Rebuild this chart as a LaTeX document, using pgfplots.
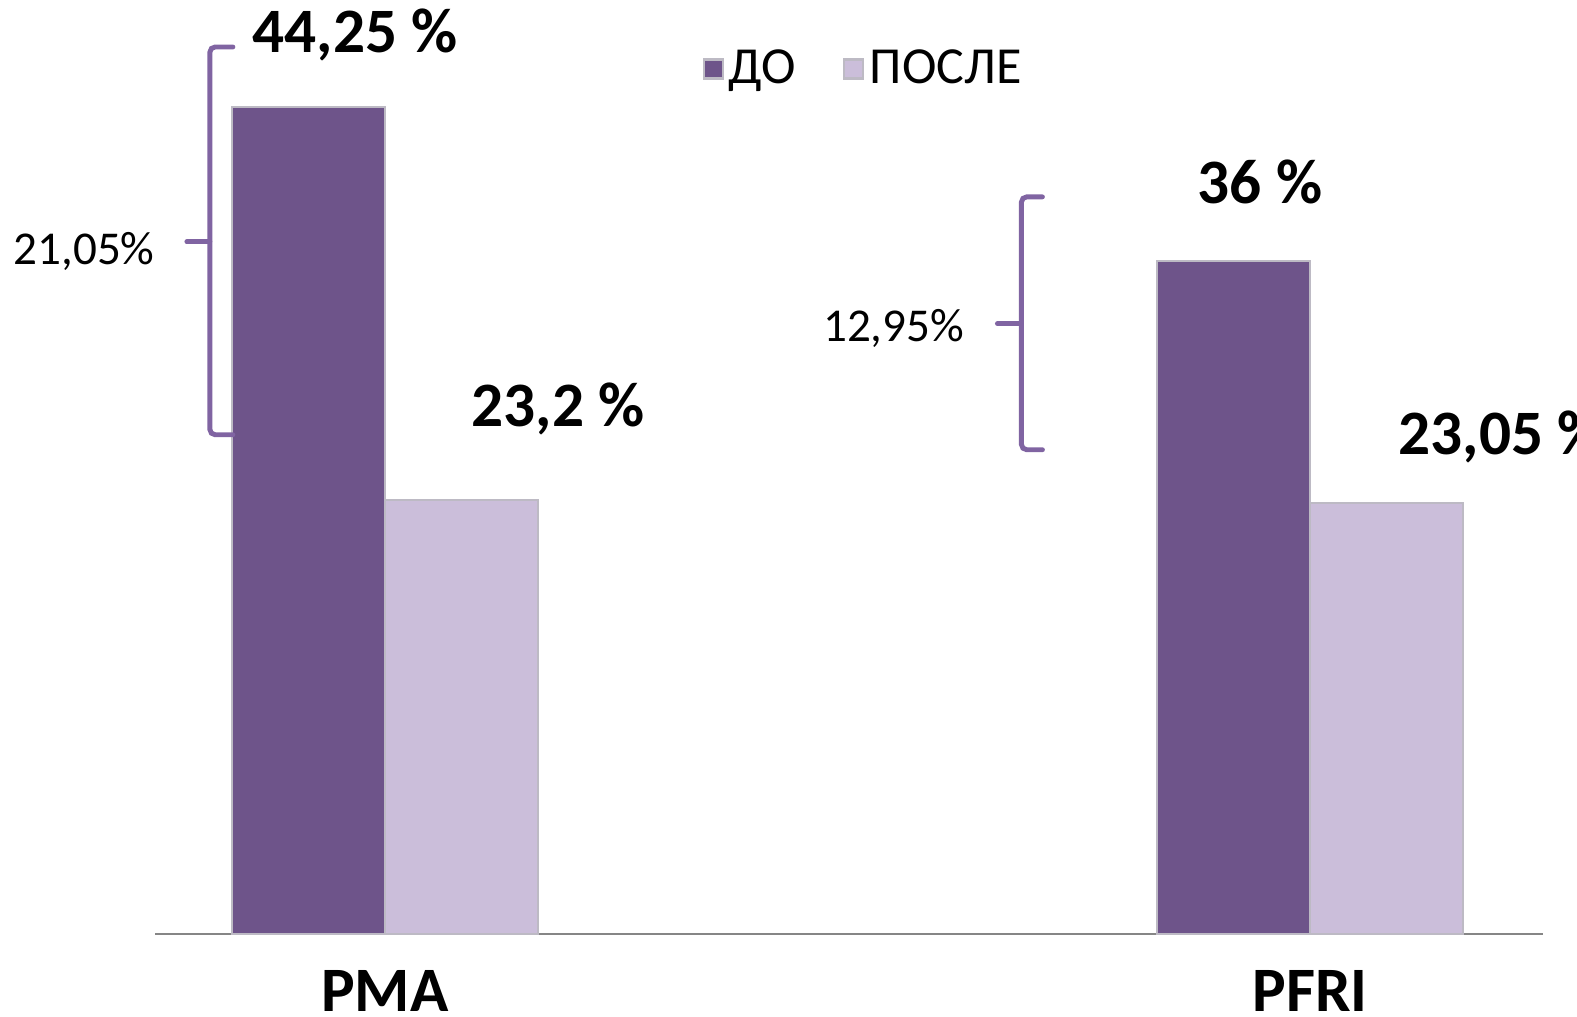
\documentclass[border=0pt]{standalone}
\usepackage{pgfplots}
\pgfplotsset{compat=1.18}
\usepackage{fontspec}
\setmainfont{Carlito}

\definecolor{dopurple}{HTML}{6E548A}
\definecolor{poslepurple}{HTML}{CBBEDA}
\definecolor{bracecol}{HTML}{8064A2}
\definecolor{axisgray}{HTML}{868686}
\definecolor{baredge}{HTML}{BDBAC4}

\newcommand{\bigfont}{\fontsize{18}{20}\selectfont\bfseries}
\newcommand{\smallfont}{\fontsize{13.4}{15}\selectfont}
\newcommand{\legfont}{\fontsize{14.8}{16}\selectfont}

\begin{document}
\begin{tikzpicture}
  \useasboundingbox (0,0) rectangle (15.77cm,10.16cm);
  \begin{axis}[
      at={(1.55cm,0.82cm)}, anchor=south west,
      scale only axis,
      width=13.88cm, height=9.345cm,
      xmin=-0.2486, xmax=1.2519,
      ymin=0, ymax=50,
      ybar=0pt, bar width=1.53cm,
      axis x line*=bottom,
      axis y line=none,
      x axis line style={-, draw=axisgray, line width=0.8pt},
      xtick={0,1},
      xticklabels={PMA,PFRI},
      xtick style={draw=none},
      xticklabel style={font=\bigfont, anchor=base, yshift=-0.62cm},
      clip=false,
      legend columns=2,
      legend style={at={(0.394,0.9256)}, anchor=west, draw=none, fill=none,
        inner sep=0pt, font=\legfont,
        nodes={inner xsep=1.5pt, inner ysep=0pt},
        /tikz/every even column/.append style={column sep=0.42cm}},
      legend image code/.code={\draw[#1] (0cm,-0.095cm) rectangle (0.19cm,0.095cm);},
    ]
    \addplot[fill=dopurple, draw=baredge, line width=0.6pt]
      coordinates {(0,44.25) (1,36)};
    \addlegendentry{ДО}
    \addplot[fill=poslepurple, draw=baredge, line width=0.6pt]
      coordinates {(0,23.2) (1,23.05)};
    \addlegendentry{ПОСЛЕ}

    \node[anchor=base west, inner sep=0pt, font=\bigfont] at (axis cs:-0.1438,47.14) {44,25 \%};
    \node[anchor=base west, inner sep=0pt, font=\bigfont] at (axis cs:0.093,27.18) {23,2 \%};
    \node[anchor=base west, inner sep=0pt, font=\bigfont] at (axis cs:0.8778,39.06) {36 \%};
    \node[anchor=base west, inner sep=0pt, font=\bigfont] at (axis cs:1.0951,25.63) {23,05 \%};
  \end{axis}

  % braces and differences, in pixel coordinates of the picture
  \begin{scope}[x=0.01cm, y=-0.01cm, shift={(0,10.16cm)},
      brace/.style={draw=bracecol, line width=1.4pt, line cap=round, rounded corners=1.5pt}]
    \draw[brace] (233,47) -| (210,435) -- (233,435);
    \draw[brace] (187,242) -- (210,242);
    \draw[brace] (1043,197) -| (1022,450) -- (1043,450);
    \draw[brace] (998,324) -- (1022,324);
    \node[anchor=base west, inner sep=0pt, font=\smallfont] at (13,265) {21,05\%};
    \node[anchor=base west, inner sep=0pt, font=\smallfont] at (823,342) {12,95\%};
  \end{scope}
\end{tikzpicture}
\end{document}
